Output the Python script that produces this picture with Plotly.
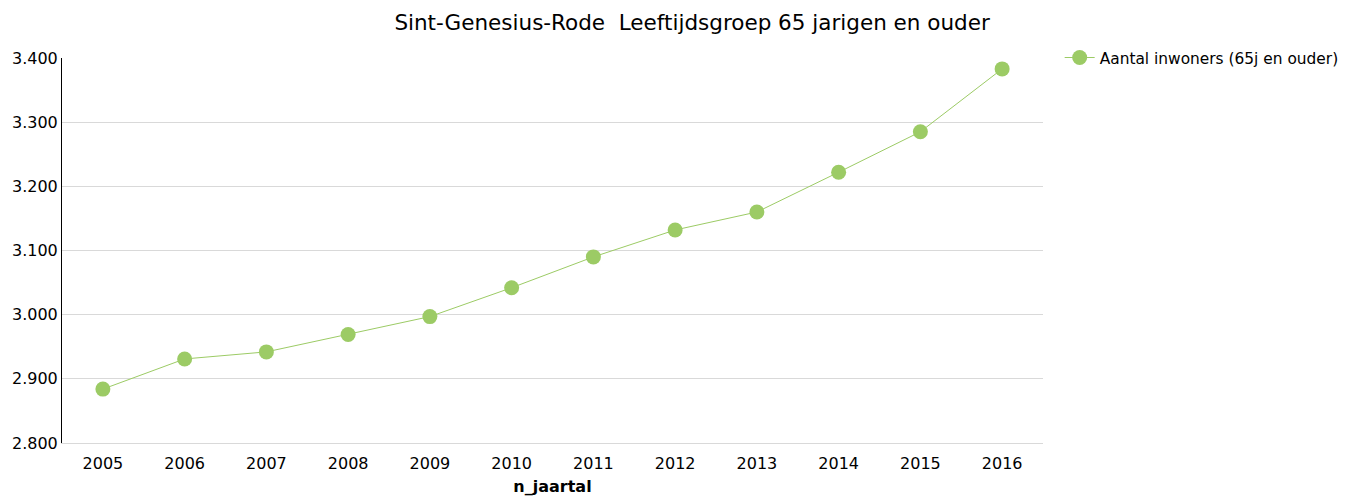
import plotly.graph_objects as go

jaren = ['2005', '2006', '2007', '2008', '2009', '2010',
         '2011', '2012', '2013', '2014', '2015', '2016']
inwoners = [2884, 2931, 2942, 2969, 2997, 3042,
            3090, 3132, 3160, 3222, 3285, 3383]
reeks = 'Aantal inwoners (65j en ouder)'
titel = 'Sint-Genesius-Rode  Leeftijdsgroep 65 jarigen en ouder'

groen = '#9ccb65'
font = 'DejaVu Sans'

fig = go.Figure()
fig.add_trace(go.Scatter(
    x=jaren, y=inwoners, name=reeks, mode='lines+markers',
    line=dict(color=groen, width=1),
    marker=dict(color=groen, size=15),
))

# page body has an 8px margin, so the figure is a bit smaller than the window
fig.update_layout(
    width=1344, height=490,
    margin=dict(l=54, r=309, t=50, b=55),
    plot_bgcolor='white', paper_bgcolor='white',
    separators=',.',
    font=dict(family=font, size=16, color='#000000'),
    title=dict(text=titel, x=0.509, xanchor='center', y=0.971, yanchor='middle',
               font=dict(size=21.5, family=font)),
    showlegend=True,
    legend=dict(xref='container', x=0.7825, xanchor='left',
                y=1.0, yanchor='middle',
                font=dict(size=15.4), bgcolor='rgba(0,0,0,0)'),
)
fig.update_xaxes(
    type='category', range=[-0.5, 11.5], automargin=False,
    showgrid=False, showline=True, linecolor='#d9d9d9', linewidth=1,
    ticks='', tickfont=dict(size=16), ticklabelstandoff=6,
    title=dict(text='<b>n_jaartal</b>', font=dict(size=16), standoff=8),
)
fig.update_yaxes(
    range=[2800, 3400], dtick=100, tickformat=',d', automargin=False,
    showgrid=True, gridcolor='#d9d9d9', gridwidth=1,
    showline=True, linecolor='#000000', linewidth=1,
    zeroline=False, ticks='', tickfont=dict(size=16),
)

fig.write_html('out.html')
